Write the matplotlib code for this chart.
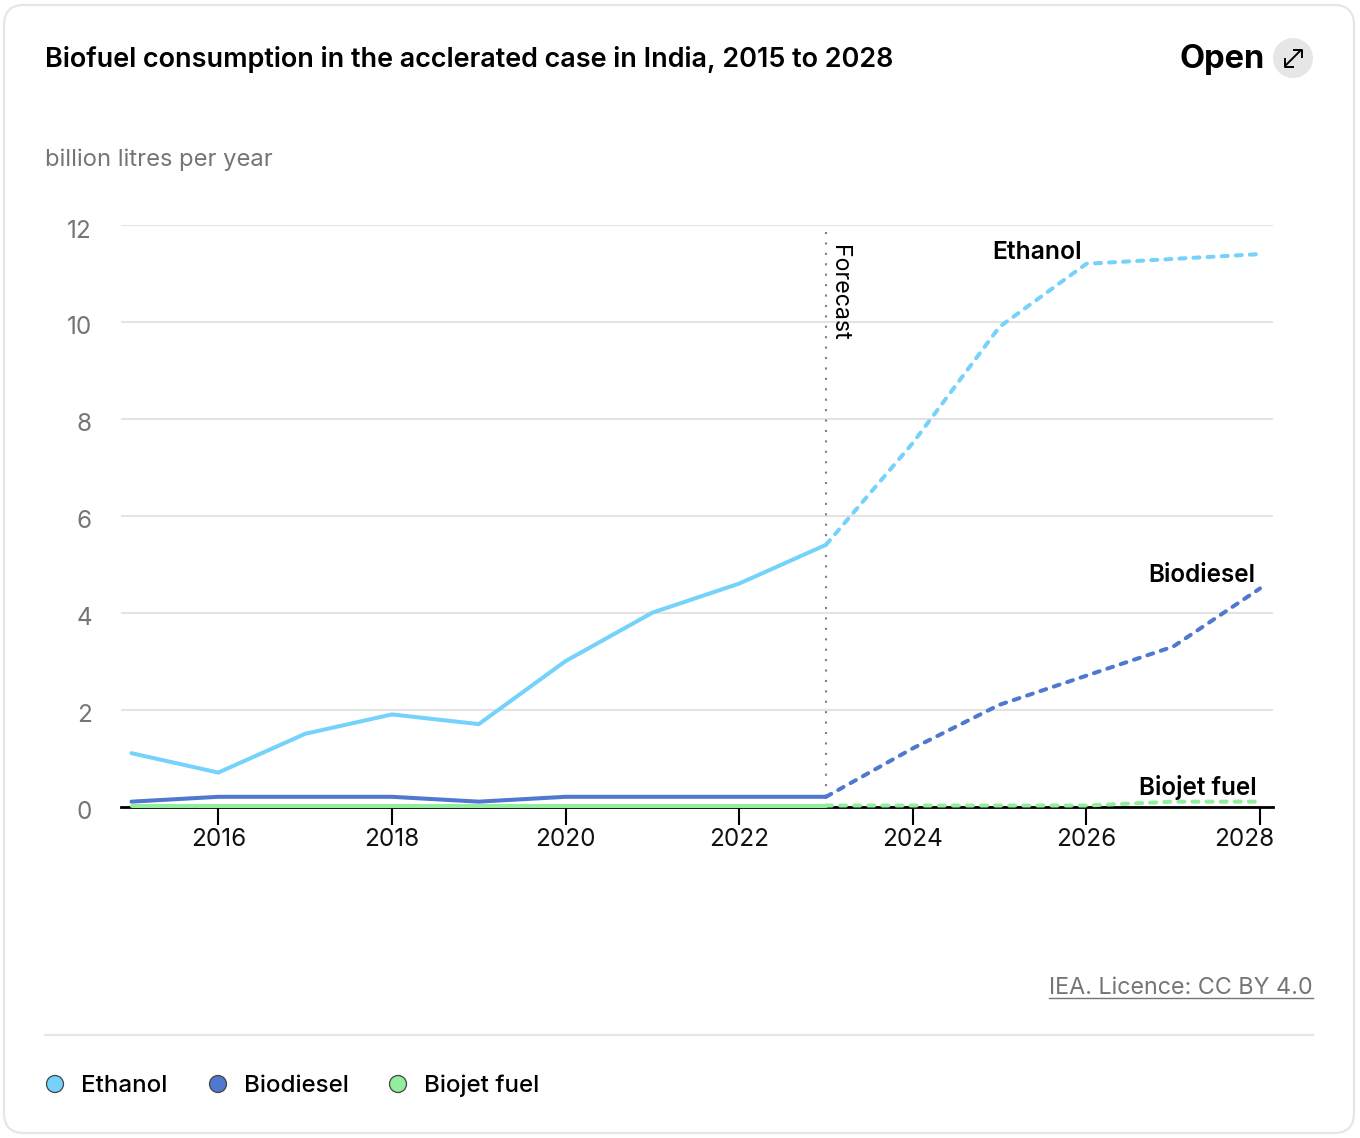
import matplotlib
matplotlib.use("Agg")
import matplotlib.pyplot as plt
from matplotlib.patches import FancyBboxPatch, Circle
from matplotlib.transforms import ScaledTranslation

plt.rcParams['font.family'] = ['Inter', 'DejaVu Sans']

years = [2015, 2016, 2017, 2018, 2019, 2020, 2021, 2022, 2023, 2024, 2025, 2026, 2027, 2028]
ethanol = [1.1, 0.7, 1.5, 1.9, 1.7, 3.0, 4.0, 4.6, 5.4, 7.5, 9.9, 11.2, 11.3, 11.4]
biodiesel = [0.1, 0.2, 0.2, 0.2, 0.1, 0.2, 0.2, 0.2, 0.2, 1.2, 2.1, 2.7, 3.3, 4.5]
biojet = [0.02, 0.02, 0.02, 0.02, 0.02, 0.02, 0.02, 0.02, 0.02, 0.02, 0.02, 0.02, 0.1, 0.1]
series_names = ['Ethanol', 'Biodiesel', 'Biojet fuel']
series_colors = ['#75d2fb', '#4f78cf', '#92ee9c']
x_ticks = [2016, 2018, 2020, 2022, 2024, 2026, 2028]
y_ticks = [0, 2, 4, 6, 8, 10, 12]
forecast_year = 2023

W, H = 1360, 1138
fig = plt.figure(figsize=(W / 100, H / 100), dpi=100, facecolor='white')

# page layer in pixel coords, y going down like the screenshot
bg = fig.add_axes([0, 0, 1, 1])
bg.set_xlim(0, W)
bg.set_ylim(H, 0)
bg.axis('off')

card = FancyBboxPatch((4, 5), 1350, 1128, boxstyle='round,pad=0,rounding_size=20',
                      fc='white', ec='#e6e6e6', lw=1.6)
bg.add_patch(card)

bg.text(45, 59, 'Biofuel consumption in the acclerated case in India, 2015 to 2028',
        fontsize=19.45, fontweight='semibold', color='black', va='center', ha='left')
bg.text(1265, 59, 'Open', fontsize=23.5, fontweight='bold', color='black', va='center', ha='right')
bg.add_patch(Circle((1293, 58), 20, fc='#e6e6e6', ec='none'))
# arrow icon
bg.plot([1285, 1301], [66, 50], color='black', lw=1.4, solid_capstyle='round')
bg.plot([1294, 1301.5, 1301.5], [49.5, 49.5, 57], color='black', lw=1.4)
bg.plot([1285, 1285, 1292.5], [59, 66.5, 66.5], color='black', lw=1.4)

bg.text(45, 160, 'billion litres per year', fontsize=17.1, color='#757575', va='center', ha='left')

bg.text(1313, 988, 'IEA. Licence: CC BY 4.0', fontsize=16.75, color='#757575', va='center', ha='right')
bg.plot([1049, 1313], [998, 998], color='#757575', lw=1)
bg.plot([45, 1313], [1035, 1035], color='#e6e6e6', lw=1.6)

# legend
legend_dot_x = [55, 218, 398]
legend_text_x = [81, 244, 424]
for name, col, dx, tx in zip(series_names, series_colors, legend_dot_x, legend_text_x):
    bg.add_patch(Circle((dx, 1084), 8.5, fc=col, ec='#444444', lw=0.9))
    bg.text(tx, 1092, name, fontsize=17.4, fontweight='medium', color='black', va='baseline', ha='left')

# chart
left, right, top, bottom = 121, 1273, 225, 806.5
ax = fig.add_axes([left / W, 1 - bottom / H, (right - left) / W, (bottom - top) / H])
ax.patch.set_alpha(0)
px_year = (1260 - 131.5) / 13
ax.set_xlim(2015 - (131.5 - left) / px_year, 2028 + (right - 1260) / px_year)
ax.set_ylim(0, 12)

for s in ['top', 'right', 'left']:
    ax.spines[s].set_visible(False)
ax.spines['bottom'].set_linewidth(2)
ax.spines['bottom'].set_color('black')

ax.set_xticks(x_ticks)
ax.set_yticks(y_ticks)
ax.set_xticklabels([str(v) for v in x_ticks], fontsize=17.5, color='#111111')
ax.set_yticklabels([str(v) for v in y_ticks], fontsize=17.5, color='#757575')
ax.tick_params(axis='x', length=13, width=1.5, color='black', pad=2.5)
ax.tick_params(axis='y', length=0, pad=21)
ax.grid(axis='y', color='#e3e3e3', lw=1.5)
ax.set_axisbelow(True)

# y labels sit a bit under their gridline, last x label stays inside the plot edge
for lab in ax.get_yticklabels():
    lab.set_transform(lab.get_transform() + ScaledTranslation(0, -0.035, fig.dpi_scale_trans))
last = ax.get_xticklabels()[-1]
last.set_ha('right')
last.set_transform(last.get_transform() + ScaledTranslation(0.14, 0, fig.dpi_scale_trans))

split = years.index(forecast_year)
all_series = [ethanol, biodiesel, biojet]
for vals, col, z in zip(all_series[::-1], series_colors[::-1], [3, 4, 5]):
    ax.plot(years[:split + 1], vals[:split + 1], color=col, lw=2.9, zorder=z, clip_on=False,
            solid_capstyle='round', solid_joinstyle='round')
    ax.plot(years[split:], vals[split:], color=col, lw=2.9, zorder=z, clip_on=False,
            linestyle=(0, (1.5, 2.0)), dash_capstyle='round')

ax.axvline(forecast_year, color='#808080', lw=1.5, linestyle=(0, (1, 4)), zorder=2)
ax.text(forecast_year + 0.02, 11.58, 'Forecast', rotation=270, fontsize=16.7, color='black',
        va='top', ha='left')

ax.text(2025.95, 11.43, 'Ethanol', fontsize=17.8, fontweight='semibold', color='black', ha='right', va='center')
ax.text(2027.95, 4.77, 'Biodiesel', fontsize=17.5, fontweight='semibold', color='black', ha='right', va='center')
ax.text(2027.96, 0.39, 'Biojet fuel', fontsize=17.5, fontweight='semibold', color='black', ha='right', va='center')

fig.savefig('out.png', dpi=100)
